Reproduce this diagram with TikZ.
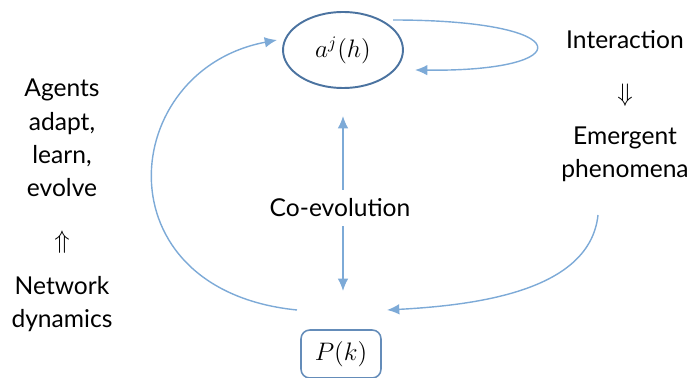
\documentclass[tikz,border=0pt]{standalone}
\usepackage{fontspec}
\setmainfont{Lato}
\usepackage{tikz}
\usetikzlibrary{positioning,arrows.meta,shapes.geometric}
\definecolor{linkblue}{RGB}{125,170,215}
\definecolor{ovalblue}{RGB}{75,115,160}
\definecolor{boxblue}{RGB}{100,140,185}
\begin{document}
\begin{tikzpicture}[
            x=0.02cm, y=-0.02cm,
            txt/.style={font=\fontsize{14}{19}\selectfont, align=center, inner sep=0pt},
            agent/.style={ellipse, draw=ovalblue, line width=1.1pt, minimum width=2.4cm, minimum height=1.52cm, font=\Large},
            dist/.style={rectangle, rounded corners=5pt, draw=boxblue, line width=0.9pt, minimum width=1.6cm, minimum height=0.96cm, font=\Large},
            link/.style={draw=linkblue, line width=0.8pt, -{Latex[length=7pt,width=6pt]}}
        ]
            \useasboundingbox (0,0) rectangle (689,378);

            \node[agent] (ah) at (343,50) {$a^{j}(h)$};
            \node[dist] (pk) at (341,354) {$P(k)$};
            \node[txt, inner ysep=5pt] (coev) at (340,208) {Co-evolution};

            % left column
            \node[txt] (agents) at (62,138) {Agents\\adapt,\\learn,\\evolve};
            \node[txt] (up) at (62,242) {$\Uparrow$};
            \node[txt] (network) at (62,304) {Network\\dynamics};

            % right column
            \node[txt] (inter) at (625,40) {Interaction};
            \node[txt] (down) at (625,95) {$\Downarrow$};
            \node[txt] (emerg) at (625,154) {Emergent\\phenomena};

            % free ends of the arrows
            \coordinate (loopA) at (393,20);
            \coordinate (loopB) at (415,70);
            \coordinate (leftA) at (297,310);
            \coordinate (leftB) at (277,40);
            \coordinate (rightA) at (598,215);
            \coordinate (rightB) at (387,310);
            \coordinate (coevTop) at (343,116);
            \coordinate (coevBot) at (343,291);

            \draw[link] (loopA) .. controls (580,20) and (580,72) .. (loopB);
            \draw[link] (leftA) .. controls (98,290) and (118,70) .. (leftB);
            \draw[link] (rightA) .. controls (590,290) and (480,305) .. (rightB);
            \draw[link] (coev.north -| coevTop) -- (coevTop);
            \draw[link] (coev.south -| coevBot) -- (coevBot);
        \end{tikzpicture}
\end{document}
